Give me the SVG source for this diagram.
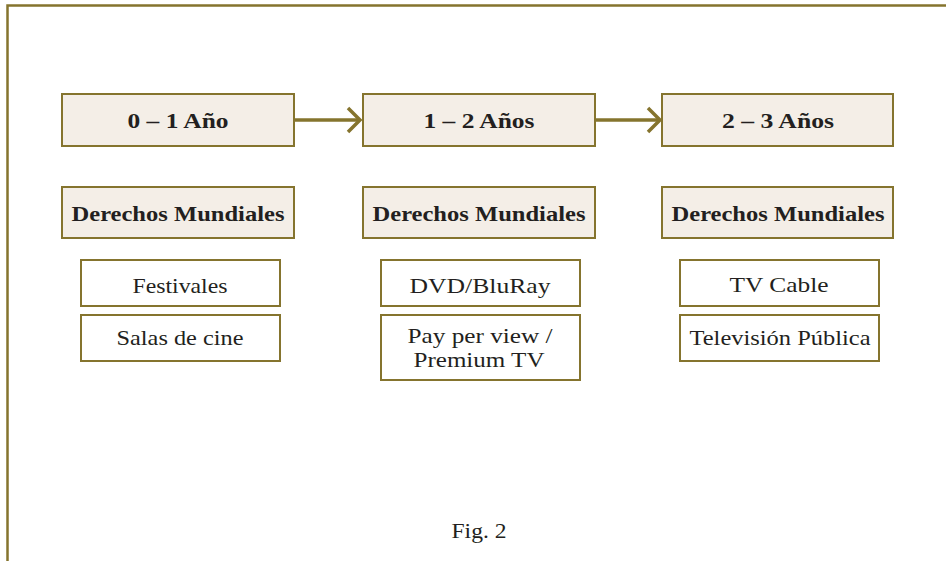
<svg xmlns="http://www.w3.org/2000/svg" width="946" height="561" viewBox="0 0 946 561">
<defs>
<style>
.frame{fill:none;stroke:#85742e;stroke-width:2.5}
.hd{fill:#f4eee7;stroke:#85742e;stroke-width:2}
.sm{fill:#ffffff;stroke:#85742e;stroke-width:2}
.conn{fill:none;stroke:#85742e;stroke-width:3.5}
.tb{font-family:"Liberation Serif",serif;font-weight:bold;font-size:21px;fill:#231f20;text-anchor:middle}
.tr{font-family:"Liberation Serif",serif;font-size:21px;fill:#231f20;text-anchor:middle}
</style>
</defs>
<rect width="946" height="561" fill="#ffffff"/>
<path class="frame" d="M7.5 561 V5.5 H946"/>
<g id="connectors">
<path class="conn" d="M294 120 H360"/>
<path class="conn" d="M348 108 L360 120 L348 132"/>
<path class="conn" d="M595 120 H660"/>
<path class="conn" d="M648 108 L660 120 L648 132"/>
</g>
<g id="n-y01"><rect class="hd" x="62" y="94" width="232" height="52"/><text class="tb" x="178" y="128" textLength="101" lengthAdjust="spacingAndGlyphs">0 – 1 Año</text></g>
<g id="n-y12"><rect class="hd" x="363" y="94" width="232" height="52"/><text class="tb" x="479" y="128" textLength="111" lengthAdjust="spacingAndGlyphs">1 – 2 Años</text></g>
<g id="n-y23"><rect class="hd" x="662" y="94" width="231" height="52"/><text class="tb" x="778" y="128" textLength="112" lengthAdjust="spacingAndGlyphs">2 – 3 Años</text></g>
<g id="n-dm1"><rect class="hd" x="62" y="187" width="232" height="51"/><text class="tb" x="178" y="221" textLength="213" lengthAdjust="spacingAndGlyphs">Derechos Mundiales</text></g>
<g id="n-dm2"><rect class="hd" x="363" y="187" width="232" height="51"/><text class="tb" x="479" y="221" textLength="213" lengthAdjust="spacingAndGlyphs">Derechos Mundiales</text></g>
<g id="n-dm3"><rect class="hd" x="662" y="187" width="231" height="51"/><text class="tb" x="778" y="221" textLength="213" lengthAdjust="spacingAndGlyphs">Derechos Mundiales</text></g>
<g id="n-fest"><rect class="sm" x="81" y="260" width="199" height="46"/><text class="tr" x="180" y="293" textLength="95" lengthAdjust="spacingAndGlyphs">Festivales</text></g>
<g id="n-salas"><rect class="sm" x="81" y="315" width="199" height="46"/><text class="tr" x="180" y="345" textLength="127" lengthAdjust="spacingAndGlyphs">Salas de cine</text></g>
<g id="n-dvd"><rect class="sm" x="381" y="260" width="199" height="46"/><text class="tr" x="480" y="293" textLength="141" lengthAdjust="spacingAndGlyphs">DVD/BluRay</text></g>
<g id="n-ppv"><rect class="sm" x="381" y="315" width="199" height="65"/><text class="tr" x="480" y="343" textLength="145" lengthAdjust="spacingAndGlyphs">Pay per view /</text><text class="tr" x="479" y="367" textLength="131" lengthAdjust="spacingAndGlyphs">Premium TV</text></g>
<g id="n-cable"><rect class="sm" x="680" y="260" width="199" height="46"/><text class="tr" x="779" y="292" textLength="99" lengthAdjust="spacingAndGlyphs">TV Cable</text></g>
<g id="n-tvp"><rect class="sm" x="680" y="315" width="199" height="46"/><text class="tr" x="780" y="345" textLength="181" lengthAdjust="spacingAndGlyphs">Televisión Pública</text></g>
<text x="479" y="538" font-family="Liberation Serif, serif" font-size="22" fill="#231f20" text-anchor="middle" textLength="55" lengthAdjust="spacingAndGlyphs">Fig. 2</text>
</svg>
